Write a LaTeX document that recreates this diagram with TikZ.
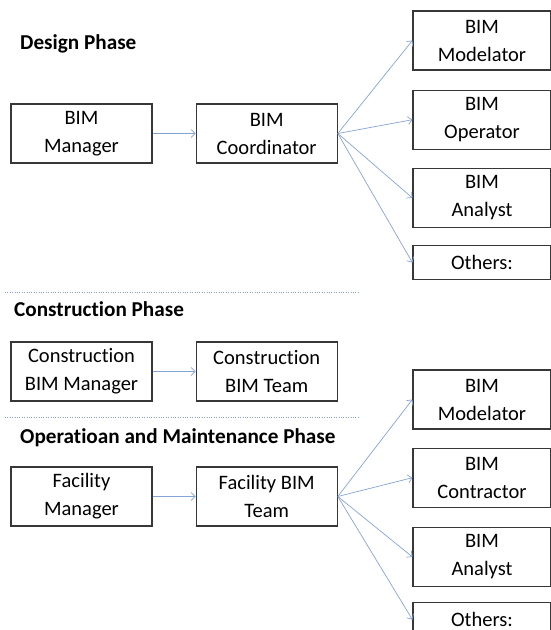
\documentclass[tikz,border=0pt]{standalone}
\usepackage{fontspec}
\setmainfont{Carlito}[Ligatures=NoCommon]
\usetikzlibrary{positioning,arrows.meta}
\definecolor{linkblue}{RGB}{134,163,216}
\definecolor{boxgray}{RGB}{55,55,55}

\begin{document}
\begin{tikzpicture}[x=1pt,y=1pt]
  \tikzset{box/.style={draw=boxgray, line width=1.2pt, minimum width=141pt,
      minimum height=59pt, align=center, inner sep=0pt,
      font=\fontsize{20.5}{28}\selectfont},
    rbox/.style={box, minimum width=138pt},
    phase/.style={anchor=west, inner sep=0pt, font=\bfseries\fontsize{21.2}{25}\selectfont},
    link/.style={draw=linkblue, line width=0.7pt, -{Straight Barb[length=4pt,width=8pt]}},
    sep/.style={draw=linkblue, line width=0.8pt, dash pattern=on 1pt off 1.4pt}}
  \useasboundingbox (0,0) rectangle (551,-630);

  % design phase
  \node[phase] (design) at (20,-44) {Design Phase};
  \node[box] (bimmgr) at (81.5,-133.5) {BIM\\Manager};
  \node[box, right=43pt of bimmgr] (coord) {BIM\\Coordinator};
  \node[rbox] (model) at (482,-40.5) {BIM\\Modelator};
  \node[rbox, below=19pt of model] (oper) {BIM\\Operator};
  \node[rbox, below=18pt of oper] (anal) {BIM\\Analyst};
  \node[rbox, below=17pt of anal, minimum height=34pt] (others) {Others:};
  \draw[link] (bimmgr.east) -- (coord.west);
  \foreach \t in {model,oper,anal,others}
    \draw[link] (coord.east) -- (\t.west);

  \draw[sep] (5,-292) -- (359,-292);

  % construction phase
  \node[phase] (constr) at (14,-309) {Construction Phase};
  \node[box] (cmgr) at (81.5,-371.5) {Construction\\BIM Manager};
  \node[box, right=43pt of cmgr] (cteam) {Construction\\BIM Team};
  \draw[link] (cmgr.east) -- (cteam.west);

  \draw[sep] (5,-417) -- (359,-417);

  % operation and maintenance phase
  \node[phase] (oandm) at (20,-438) {Operatioan and Maintenance Phase};
  \node[box] (fmgr) at (81.5,-496.5) {Facility\\Manager};
  \node[box, right=43pt of fmgr] (fteam) {Facility BIM\\Team};
  \node[rbox] (model2) at (482,-399.5) {BIM\\Modelator};
  \node[rbox, below=18pt of model2] (contr) {BIM\\Contractor};
  \node[rbox, below=19pt of contr] (anal2) {BIM\\Analyst};
  \node[rbox, below=15pt of anal2, minimum height=34pt] (others2) {Others:};
  \draw[link] (fmgr.east) -- (fteam.west);
  \foreach \t in {model2,contr,anal2,others2}
    \draw[link] (fteam.east) -- (\t.west);
\end{tikzpicture}
\end{document}
